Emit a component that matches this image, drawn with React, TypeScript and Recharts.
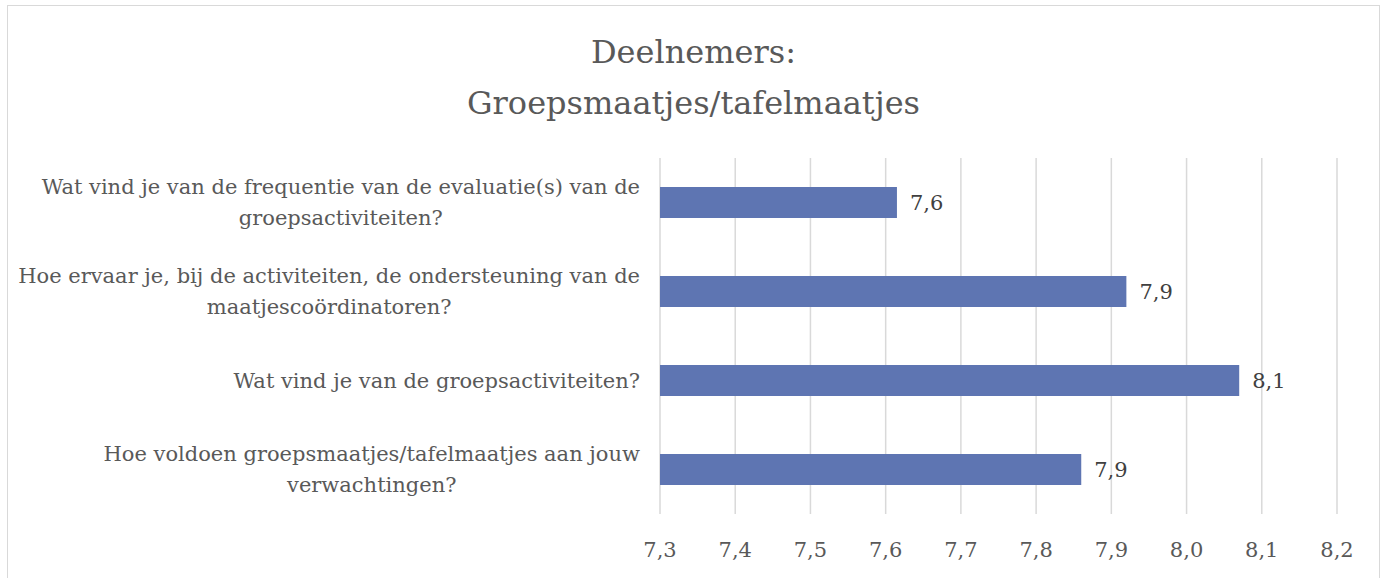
import React from 'react';
import { BarChart, Bar, XAxis, YAxis, CartesianGrid, LabelList } from 'recharts';

const titleLines = ['Deelnemers:', 'Groepsmaatjes/tafelmaatjes'];
const categories = [
  'Wat vind je van de frequentie van de evaluatie(s) van de\ngroepsactiviteiten?',
  'Hoe ervaar je, bij de activiteiten, de ondersteuning van de\nmaatjescoördinatoren?',
  'Wat vind je van de groepsactiviteiten?',
  'Hoe voldoen groepsmaatjes/tafelmaatjes aan jouw\nverwachtingen?',
];
const values = [7.615, 7.92, 8.07, 7.86];
const valueLabels = ['7,6', '7,9', '8,1', '7,9'];
const xTicks = [7.3, 7.4, 7.5, 7.6, 7.7, 7.8, 7.9, 8.0, 8.1, 8.2];

const data = categories.map((name, i) => ({ name, value: values[i], label: valueLabels[i] }));

const FONT = '"DejaVu Serif", "Liberation Serif", serif';
const LABEL_SIZE = 21;
const TEXT_COLOR = '#595959';

let ctx: CanvasRenderingContext2D | null = null;
const measure = (t: string) => {
  if (!ctx) ctx = document.createElement('canvas').getContext('2d');
  if (!ctx) return t.length * LABEL_SIZE * 0.55;
  ctx.font = `${LABEL_SIZE}px ${FONT}`;
  return ctx.measureText(t).width;
};

const CategoryTick = (props: any) => {
  const { x, y, payload } = props;
  const lines: string[] = String(payload.value).split('\n');
  const maxW = Math.max(...lines.map(measure));
  const right = x;
  const cx = right - maxW / 2;
  const lh = 31;
  const start = y - ((lines.length - 1) * lh) / 2;
  return (
    <g>
      {lines.map((l, i) => (
        <text
          key={i}
          x={cx}
          y={start + i * lh}
          dy="0.35em"
          textAnchor="middle"
          fontFamily={FONT}
          fontSize={LABEL_SIZE}
          fill={TEXT_COLOR}
        >
          {l}
        </text>
      ))}
    </g>
  );
};

export default function App() {
  return (
    <div style={{ position: 'absolute', left: 0, top: 0, width: 1385, height: 578, background: '#fff', overflow: 'hidden' }}>
      <div
        style={{
          position: 'absolute',
          left: 7,
          top: 5,
          width: 1373,
          height: 600,
          border: '1px solid #d9d9d9',
          boxSizing: 'border-box',
        }}
      />
      {titleLines.map((t, i) => (
        <div
          key={i}
          style={{
            position: 'absolute',
            left: 7,
            width: 1373,
            top: 30 + i * 51,
            textAlign: 'center',
            fontFamily: FONT,
            fontSize: 32,
            lineHeight: '44px',
            color: TEXT_COLOR,
          }}
        >
          {t}
        </div>
      ))}
      <div style={{ position: 'absolute', left: 0, top: 0 }}>
        <BarChart
          width={1385}
          height={578}
          data={data}
          layout="vertical"
          margin={{ top: 158, right: 48, bottom: 0, left: 0 }}
          barCategoryGap={0}
        >
          <CartesianGrid horizontal={false} stroke="#d9d9d9" strokeWidth={1.5} />
          <XAxis
            type="number"
            domain={[7.3, 8.2]}
            ticks={xTicks}
            interval={0}
            allowDataOverflow
            axisLine={false}
            tickLine={false}
            tickMargin={22}
            height={64}
            tickFormatter={(v: number) => v.toFixed(1).replace('.', ',')}
            tick={{ fill: TEXT_COLOR, fontSize: LABEL_SIZE, fontFamily: FONT }}
          />
          <YAxis
            type="category"
            dataKey="name"
            width={660}
            axisLine={false}
            tickLine={false}
            tickMargin={14}
            interval={0}
            tick={<CategoryTick />}
          />
          <Bar dataKey="value" fill="#5E75B2" barSize={31} isAnimationActive={false}>
            <LabelList
              dataKey="label"
              position="right"
              offset={13}
              fill="#404040"
              fontSize={LABEL_SIZE}
              fontFamily={FONT}
            />
          </Bar>
        </BarChart>
      </div>
    </div>
  );
}
